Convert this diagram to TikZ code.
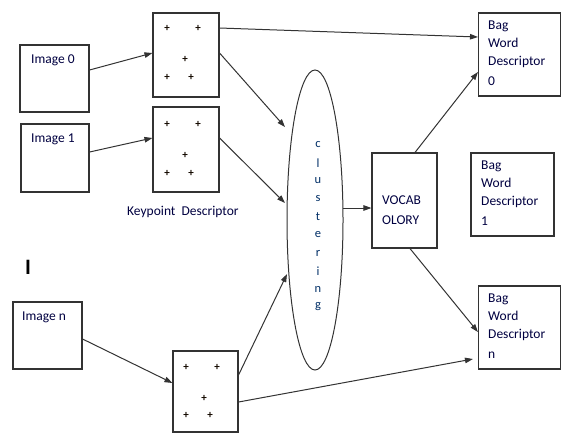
\documentclass[tikz,border=0pt]{standalone}
\usepackage{fontspec}
\setmainfont{Carlito}
\usetikzlibrary{arrows.meta,shapes.geometric,calc}
\begin{document}
\begin{tikzpicture}[x=1pt,y=-1pt,
  box/.style={draw=black!80,line width=1.1pt,inner sep=0pt},
  conn/.style={draw=black!80,line width=1pt,-{Triangle[length=8pt,width=5.5pt]}},
  txt/.style={font=\fontsize{13.5}{18}\selectfont,text=black!75!blue,inner sep=0pt},
  plus/.style={font=\bfseries\fontsize{11}{11}\selectfont,inner sep=0pt,text=black!92!orange}]
\useasboundingbox (0,0) rectangle (561,432);
% image boxes
\node[box,minimum width=69pt,minimum height=67pt] (img0) at (54.5,78.5) {};
\node[box,minimum width=68pt,minimum height=68pt] (img1) at (55,158) {};
\node[box,minimum width=69pt,minimum height=67pt] (imgn) at (47.5,335.5) {};
\node[txt,anchor=west] (t0) at (31,60) {Image 0};
\node[txt,anchor=west] (t1) at (31,139) {Image 1};
\node[txt,anchor=west] (tn) at (22,317) {Image n};
\node[font=\bfseries\fontsize{22}{22}\selectfont,inner sep=0pt] (dots) at (28,267) {I};
% keypoint boxes
\node[box,minimum width=66pt,minimum height=84pt] (kp1) at (186,55) {};
\node[box,minimum width=66pt,minimum height=85pt] (kp2) at (186,149.5) {};
\node[box,minimum width=65pt,minimum height=81pt] (kp3) at (205.5,391.5) {};
\foreach \i/\x/\y in {a/167/28,b/198/28,c/185/59,d/167/77,e/191/77}{
  \node[plus] (pa\i) at (\x,\y) {+};
  \node[plus] (pb\i) at (\x,\y+96) {+};}
\foreach \i/\x/\y in {a/186/367,b/217/367,c/204/398,d/186/415,e/210/415}{
  \node[plus] (pc\i) at (\x,\y) {+};}
\node[txt,anchor=west] (kd) at (127,212) {Keypoint\ \ Descriptor};
% clustering ellipse
\node[draw=black!80,line width=1pt,ellipse,minimum width=56pt,minimum height=300pt,inner sep=0pt] (clus) at (315,220) {};
\foreach \l [count=\k] in {c,l,u,s,t,e,r,i,n,g}{
  \node[txt,font=\fontsize{12.5}{12.5}\selectfont,text=black!70!green!60!blue] (cl\k) at (318,127+18*\k) {\l};}
% vocabulary
\node[box,minimum width=65pt,minimum height=95pt] (voc) at (404.5,200.5) {};
\node[txt,anchor=north west,align=left] (vt) at (382,196) {VOCAB\\[2pt]OLORY};
% bag word boxes
\node[box,minimum width=82pt,minimum height=83pt] (bag0) at (519.5,54.5) {};
\node[box,minimum width=83pt,minimum height=83pt] (bag1) at (512.5,194.5) {};
\node[box,minimum width=82pt,minimum height=83pt] (bagn) at (519.5,327.5) {};
\node[txt,anchor=north west,align=left] (b0t) at (488,21) {Bag\\Word\\Descriptor\\[2pt]0};
\node[txt,anchor=north west,align=left] (b1t) at (481,161) {Bag\\Word\\Descriptor\\[2pt]1};
\node[txt,anchor=north west,align=left] (bnt) at (488,294) {Bag\\Word\\Descriptor\\[2pt]n};
% connectors
\draw[conn] ([yshift=8.5pt]img0.east) -- ([yshift=2pt]kp1.west);
\draw[conn] ([yshift=6pt]img1.east) -- ([yshift=11.5pt]kp2.west);
\draw[conn] ([yshift=-3.5pt]imgn.east) -- ([yshift=8.5pt]kp3.west);
\draw[conn] ([yshift=27pt]kp1.east) -- ([yshift=17.5pt]bag0.west);
\draw[conn] ([yshift=2pt]kp1.east) -- ($(clus.center)+(-30,-93)$);
\draw[conn] ([yshift=11.5pt]kp2.east) -- ($(clus.center)+(-30,-17)$);
\draw[conn] ([yshift=16.5pt]kp3.east) -- ($(clus.center)+(-28,54)$);
\draw[conn] ([yshift=-10.5pt]kp3.east) -- ([xshift=-5pt,yshift=-31.5pt]bagn.west);
\draw[conn] ($(clus.center)+(28,-12)$) -- ([yshift=-7.5pt]voc.west);
\draw[conn] ([xshift=10.5pt]voc.north) -- ([yshift=-17.5pt]bag0.west);
\draw[conn] ([xshift=5.5pt]voc.south) -- ([yshift=-4.5pt]bagn.west);
\end{tikzpicture}
\end{document}
